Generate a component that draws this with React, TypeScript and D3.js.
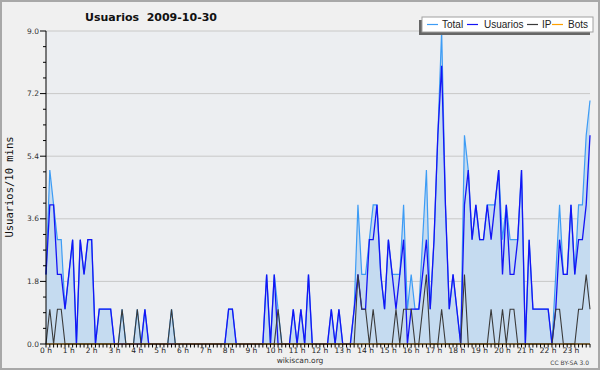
import React, { useEffect } from "react";
import * as d3 from "d3";

// 10-minute slots, 144 per day (rows of one hour = 6 values)
const usuarios = [
  2, 4, 4, 2, 2, 1,  2, 3, 0, 3, 2, 3,  3, 0, 1, 1, 1, 1,  0, 0, 0, 0, 0, 0,
  0, 0, 1, 0, 0, 0,  0, 0, 0, 0, 0, 0,  0, 0, 0, 0, 0, 0,  0, 0, 0, 0, 0, 0,
  1, 1, 0, 0, 0, 0,  0, 0, 0, 0, 2, 0,  2, 0, 0, 0, 0, 1,  0, 1, 0, 2, 0, 0,
  0, 0, 0, 1, 0, 1,  0, 0, 0, 1, 2, 1,  1, 3, 3, 4, 2, 1,  3, 2, 1, 2, 3, 0,
  1, 1, 1, 2, 3, 1,  3, 6, 8, 4, 1, 2,  1, 0, 4, 5, 3, 4,  3, 3, 4, 3, 4, 5,
  2, 4, 2, 2, 3, 5,  0, 3, 1, 1, 1, 1,  1, 0, 1, 3, 2, 2,  4, 2, 3, 3, 4, 6,
];

const ip = [
  0, 1, 0, 1, 1, 0,  0, 0, 0, 0, 0, 0,  0, 0, 0, 0, 0, 0,  0, 0, 1, 0, 0, 0,
  1, 0, 0, 0, 0, 0,  0, 0, 0, 1, 0, 0,  0, 0, 0, 0, 0, 0,  0, 0, 0, 0, 0, 0,
  0, 0, 0, 0, 0, 0,  0, 0, 0, 0, 0, 0,  0, 1, 0, 0, 0, 0,  0, 0, 0, 0, 0, 0,
  0, 0, 0, 0, 0, 0,  0, 0, 0, 0, 2, 1,  1, 0, 1, 0, 0, 0,  0, 0, 1, 0, 1, 1,
  1, 0, 0, 1, 2, 0,  0, 0, 1, 0, 0, 0,  0, 0, 2, 0, 0, 0,  0, 0, 0, 1, 0, 0,
  1, 0, 1, 1, 0, 0,  0, 0, 0, 0, 0, 0,  0, 0, 1, 1, 0, 0,  0, 0, 1, 1, 2, 1,
];

const total = [
  2, 5, 4, 3, 3, 1,  2, 3, 0, 3, 2, 3,  3, 0, 1, 1, 1, 1,  0, 0, 1, 0, 0, 0,
  1, 0, 1, 0, 0, 0,  0, 0, 0, 1, 0, 0,  0, 0, 0, 0, 0, 0,  0, 0, 0, 0, 0, 0,
  1, 1, 0, 0, 0, 0,  0, 0, 0, 0, 2, 0,  2, 1, 0, 0, 0, 1,  0, 1, 0, 2, 0, 0,
  0, 0, 0, 1, 0, 1,  0, 0, 0, 1, 4, 2,  2, 3, 4, 4, 2, 1,  3, 2, 2, 2, 4, 1,
  2, 1, 1, 3, 5, 1,  3, 6, 9, 4, 1, 2,  1, 0, 6, 5, 3, 4,  3, 3, 4, 4, 4, 5,
  3, 4, 3, 3, 3, 5,  0, 3, 1, 1, 1, 1,  1, 0, 2, 4, 2, 2,  4, 2, 4, 4, 6, 7,
];

const bots = [
  0, 0, 0, 0, 0, 0,  0, 0, 0, 0, 0, 0,  0, 0, 0, 0, 0, 0,  0, 0, 0, 0, 0, 0,
  0, 0, 0, 0, 0, 0,  0, 0, 0, 0, 0, 0,  0, 0, 0, 0, 0, 0,  0, 0, 0, 0, 0, 0,
  0, 0, 0, 0, 0, 0,  0, 0, 0, 0, 0, 0,  0, 0, 0, 0, 0, 0,  0, 0, 0, 0, 0, 0,
  0, 0, 0, 0, 0, 0,  0, 0, 0, 0, 0, 0,  0, 0, 0, 0, 0, 0,  0, 0, 0, 0, 0, 0,
  0, 0, 0, 0, 0, 0,  0, 0, 0, 0, 0, 0,  0, 0, 0, 0, 0, 0,  0, 0, 0, 0, 0, 0,
  0, 0, 0, 0, 0, 0,  0, 0, 0, 0, 0, 0,  0, 0, 0, 0, 0, 0,  0, 0, 0, 0, 0, 0,
];

const hourLabels = [
  "0 h", "1 h", "2 h", "3 h", "4 h", "5 h", "6 h", "7 h", "8 h", "9 h", "10 h", "11 h",
  "12 h", "13 h", "14 h", "15 h", "16 h", "17 h", "18 h", "19 h", "20 h", "21 h", "22 h", "23 h",
];
const yTicks = [0, 1.8, 3.6, 5.4, 7.2, 9.0];
const yMinorTicks = [
  0.45, 0.9, 1.35, 2.25, 2.7, 3.15, 4.05, 4.5, 4.95, 5.85, 6.3, 6.75, 7.65, 8.1, 8.55,
];

const seriesNames = ["Total", "Usuarios", "IP", "Bots"];
const seriesColors = ["#3d9cf5", "#1414f5", "#3a3a3a", "#ffa000"];

const W = 600;
const H = 370;
const X0 = 46;
const X1 = 590;
const Y0 = 344;
const Y1 = 31;
const tickFont = "DejaVu Sans, Verdana, sans-serif";

export default function App() {
  useEffect(() => {
    document.body.style.margin = "0";
  }, []);

  const x = d3.scaleLinear().domain([0, total.length - 1]).range([X0, X1]);
  const y = d3.scaleLinear().domain([0, 9]).range([Y0, Y1]);

  const line = d3
    .line<number>()
    .x((_, i) => x(i))
    .y((d) => y(d));
  const area = d3
    .area<number>()
    .x((_, i) => x(i))
    .y0(y(0))
    .y1((d) => y(d));

  const series = [total, usuarios, ip, bots];
  const widths = [1.2, 1.3, 1.1, 1.1];

  const legendX = 422;
  const legendY = 17;
  const legendW = 171;
  const legendH = 15;
  const legendItems = [
    { lx: 427, tx: 442 },
    { lx: 467, tx: 484 },
    { lx: 527, tx: 542 },
    { lx: 552, tx: 568 },
  ];

  return (
    <svg
      width={W}
      height={H}
      style={{ position: "absolute", left: 0, top: 0, display: "block" }}
      xmlns="http://www.w3.org/2000/svg"
    >
      <rect x={1} y={1} width={W - 2} height={H - 2} fill="#f0f0f0" stroke="#a8a8a8" strokeWidth={2} />
      <rect x={X0} y={Y1} width={X1 - X0} height={Y0 - Y1} fill="#eceef1" />

      {yTicks.slice(1).map((t) => (
        <line key={"g" + t} x1={X0} x2={X1} y1={y(t)} y2={y(t)} stroke="#c8c8c8" strokeWidth={1} />
      ))}

      <path d={area(total) || ""} fill="#c5dbf0" />
      {series.map((s, k) => (
        <path
          key={"s" + k}
          d={line(s) || ""}
          fill="none"
          stroke={seriesColors[k]}
          strokeWidth={widths[k]}
          strokeLinejoin="miter"
        />
      ))}

      {/* Y axis */}
      <line x1={X0} x2={X0} y1={Y1} y2={Y0} stroke="#000" strokeWidth={1} />
      {yTicks.map((t) => (
        <g key={"yt" + t}>
          <line x1={X0 - 6} x2={X0} y1={y(t)} y2={y(t)} stroke="#000" strokeWidth={1} />
          <text
            x={X0 - 7}
            y={y(t)}
            dy="0.35em"
            textAnchor="end"
            fontFamily={tickFont}
            fontSize={7.5}
            fill="#333"
          >
            {t.toFixed(1)}
          </text>
        </g>
      ))}
      {yMinorTicks.map((t) => (
        <line key={"ym" + t} x1={X0 - 3} x2={X0} y1={y(t)} y2={y(t)} stroke="#000" strokeWidth={1} />
      ))}

      {/* X axis */}
      <line x1={X0} x2={X1} y1={Y0} y2={Y0} stroke="#000" strokeWidth={1.2} />
      {total.map((_, i) => (
        <line key={"xt" + i} x1={x(i)} x2={x(i)} y1={Y0} y2={Y0 + 3.5} stroke="#000" strokeWidth={1} />
      ))}
      {hourLabels.map((h, k) => (
        <text
          key={"xl" + k}
          x={x(k * 6)}
          y={353}
          textAnchor="middle"
          fontFamily={tickFont}
          fontSize={7.5}
          fill="#222"
        >
          {h}
        </text>
      ))}

      {/* Titles */}
      <text
        x={151}
        y={21}
        textAnchor="middle"
        fontFamily={tickFont}
        fontWeight="bold"
        fontSize={11}
        fill="#111"
        style={{ whiteSpace: "pre" }}
      >
        {"Usuarios  2009-10-30"}
      </text>
      <text
        transform={`translate(13, ${187}) rotate(-90)`}
        textAnchor="middle"
        fontFamily="DejaVu Sans Mono, monospace"
        fontSize={10.5}
        fill="#111"
      >
        Usuarios/10 mins
      </text>
      <text x={300} y={363} textAnchor="middle" fontFamily={tickFont} fontSize={7.5} fill="#333">
        wikiscan.org
      </text>
      <text x={589} y={365} textAnchor="end" fontFamily={tickFont} fontSize={6} fill="#444">
        CC BY-SA 3.0
      </text>

      {/* Legend */}
      <rect x={legendX - 3} y={legendY + 3} width={legendW} height={legendH} fill="#666" />
      <rect x={legendX} y={legendY} width={legendW} height={legendH} fill="#fff" stroke="#a0a0a0" strokeWidth={1} />
      {seriesNames.map((n, k) => (
        <g key={"lg" + k}>
          <line
            x1={legendItems[k].lx}
            x2={legendItems[k].lx + 11}
            y1={legendY + 7.5}
            y2={legendY + 7.5}
            stroke={seriesColors[k]}
            strokeWidth={1.2}
          />
          <text
            x={legendItems[k].tx}
            y={legendY + 11}
            fontFamily="Liberation Sans, Arial, sans-serif"
            fontSize={10}
            fill="#222"
          >
            {n}
          </text>
        </g>
      ))}
    </svg>
  );
}
